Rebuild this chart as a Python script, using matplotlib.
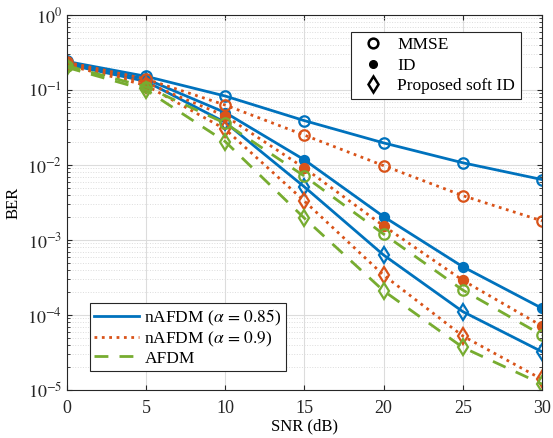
import numpy as np
import matplotlib
matplotlib.use('Agg')
import matplotlib.pyplot as plt
from matplotlib.lines import Line2D

plt.rcParams['font.family'] = ['Liberation Serif', 'DejaVu Serif']
plt.rcParams['mathtext.fontset'] = 'stix'

snr = [0, 5, 10, 15, 20, 25, 30]

# nAFDM alpha = 0.85
ber_085_mmse = [0.24, 0.152, 0.083, 0.039, 0.0197, 0.0107, 0.0064]
ber_085_id = [0.23, 0.14, 0.05, 0.0117, 0.00205, 0.00044, 0.000123]
ber_085_soft = [0.22, 0.13, 0.037, 0.0051, 0.00063, 0.000111, 0.0000324]

# nAFDM alpha = 0.9
ber_09_mmse = [0.235, 0.14, 0.063, 0.025, 0.0098, 0.0039, 0.0018]
ber_09_id = [0.225, 0.125, 0.045, 0.0091, 0.00154, 0.00029, 0.0000713]
ber_09_soft = [0.215, 0.115, 0.03, 0.0033, 0.00034, 0.0000525, 0.0000139]

# AFDM
ber_afdm_mmse = [0.21, 0.11, 0.036, 0.0071, 0.0012, 0.000215, 0.000054]
ber_afdm_soft = [0.2, 0.1, 0.0205, 0.00195, 0.00021, 0.000037, 0.000012]

blue = '#0072BD'
orange = '#D95319'
green = '#77AC30'

fig = plt.figure(figsize=(5.53, 4.38), dpi=100)
ax = fig.add_axes([0.121, 0.1096, 0.859, 0.8562])

lw = 2.0
mew = 1.6

def draw(y, color, ls, marker, filled):
    if marker == 'd':
        ms = 8.5
    elif filled:
        ms = 6.5
    else:
        ms = 7.5
    ax.plot(snr, y, color=color, ls=ls, lw=lw, marker=marker,
            markersize=ms, markeredgewidth=mew,
            markerfacecolor=color if filled else 'none',
            markeredgecolor=color)

draw(ber_085_mmse, blue, '-', 'o', False)
draw(ber_085_id, blue, '-', 'o', True)
draw(ber_085_soft, blue, '-', 'd', False)
draw(ber_09_mmse, orange, ':', 'o', False)
draw(ber_09_id, orange, ':', 'o', True)
draw(ber_09_soft, orange, ':', 'd', False)
draw(ber_afdm_mmse, green, (0, (5, 4)), 'o', False)
draw(ber_afdm_soft, green, (0, (5, 4)), 'd', False)

ax.set_yscale('log')
ax.set_xlim(0, 30)
ax.set_ylim(1e-5, 1)
ax.set_xticks(snr)
ax.set_yticks([1e-5, 1e-4, 1e-3, 1e-2, 1e-1, 1])
ax.set_yticklabels([r'$10^{-5}$', r'$10^{-4}$', r'$10^{-3}$', r'$10^{-2}$', r'$10^{-1}$', r'$10^{0}$'])
ax.tick_params(which='both', direction='in', top=True, right=True, labelsize=13, colors='#262626')
ax.tick_params(axis='x', pad=7)
ax.grid(True, which='major', color='#dcdcdc', lw=0.8, ls='-')
ax.grid(True, which='minor', axis='y', color='#dcdcdc', lw=0.7, ls=':')
ax.set_axisbelow(True)
for s in ax.spines.values():
    s.set_color('#262626')
    s.set_linewidth(0.8)

ax.set_xlabel('SNR (dB)', fontsize=12, labelpad=1)
ax.set_ylabel('BER', fontsize=12, labelpad=4)

# marker legend (top right)
marker_handles = [
    Line2D([], [], ls='none', marker='o', color='k', markerfacecolor='none', markersize=7, markeredgewidth=1.8),
    Line2D([], [], ls='none', marker='o', color='k', markersize=5.5),
    Line2D([], [], ls='none', marker='d', color='k', markerfacecolor='none', markersize=8, markeredgewidth=1.8),
]
leg1 = ax.legend(marker_handles, ['MMSE', 'ID', 'Proposed soft ID'], loc='upper right',
                 bbox_to_anchor=(0.955, 0.955), borderaxespad=0, fancybox=False,
                 framealpha=1, edgecolor='#262626', fontsize=12.5, handlelength=2.0,
                 labelspacing=0.25, borderpad=0.3, handletextpad=0.4)
leg1.get_frame().set_linewidth(0.8)
ax.add_artist(leg1)

# line legend (bottom left)
line_handles = [
    Line2D([], [], color=blue, ls='-', lw=lw),
    Line2D([], [], color=orange, ls=':', lw=lw),
    Line2D([], [], color=green, ls=(0, (5, 4)), lw=lw),
]
leg2 = ax.legend(line_handles, [r'nAFDM ($\alpha\,=\,0.85$)', r'nAFDM ($\alpha\,=\,0.9$)', 'AFDM'],
                 loc='lower left', bbox_to_anchor=(0.048, 0.051), borderaxespad=0,
                 fancybox=False, framealpha=1, edgecolor='#262626', fontsize=12.5,
                 handlelength=2.6, labelspacing=0.1, borderpad=0.25, handletextpad=0.3)
leg2.get_frame().set_linewidth(0.8)

fig.savefig('out.png', dpi=100)
